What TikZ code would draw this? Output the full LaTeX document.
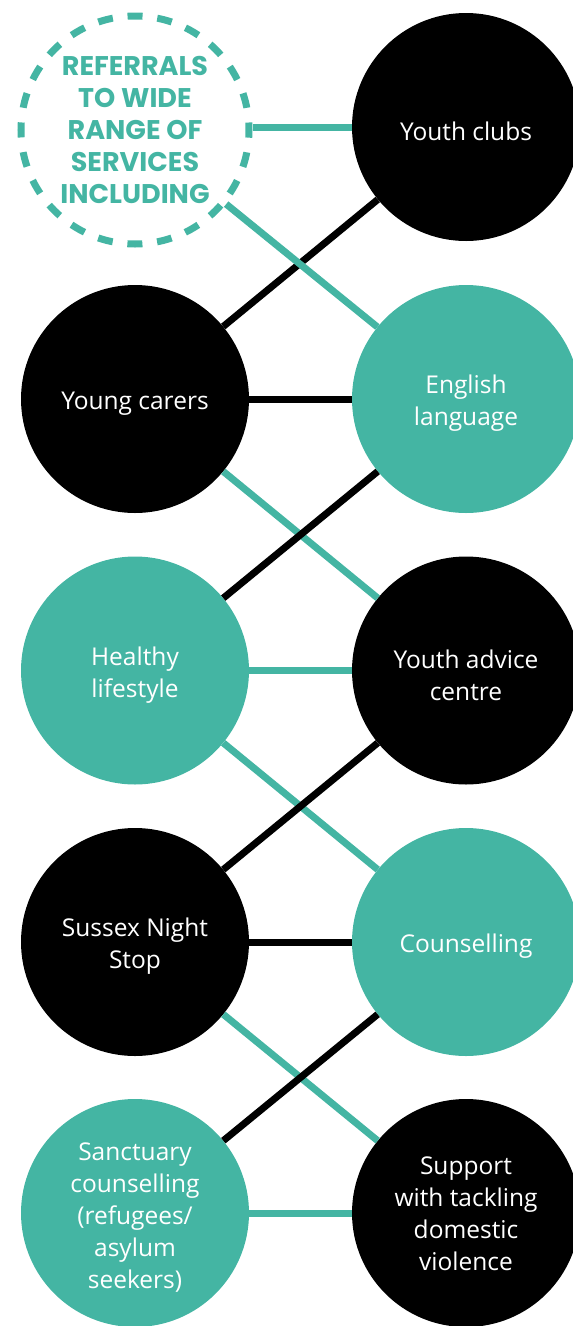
\documentclass[tikz,border=0pt]{standalone}
\usepackage{fontspec}
\setmainfont{Open Sans}
\newfontfamily\headfont{Poppins}
\definecolor{teal}{HTML}{44B5A3}
\begin{document}
\begin{tikzpicture}[x=1pt,y=-1pt,
  bubble/.style={circle,minimum size=228pt,inner sep=0pt},
  dark/.style={bubble,fill=black},
  light/.style={bubble,fill=teal},
  caption/.style={align=center,text=white,yshift=-4.5pt,
    font=\fontsize{24.5}{32}\selectfont},
  ring/.style={circle,minimum size=228pt,inner sep=0pt,align=center,draw=teal,
    line width=7pt,dash pattern=on 15pt off 14.84pt,dash phase=7.5pt,text=teal,
    font=\headfont\bfseries\fontsize{27}{31.8}\selectfont},
  tlink/.style={draw=teal,line width=7pt},
  blink/.style={draw=black,line width=7pt}]
\useasboundingbox (0,0) rectangle (573,1326);
\clip (0,0) rectangle (573,1326);
% left column
\node[ring]  (l0) at (135,130)    {REFERRALS\\TO WIDE\\RANGE OF\\SERVICES\\INCLUDING};
\node[dark]  (l1) at (135,399)    {};
\node[light] (l2) at (135,670.5)  {};
\node[dark]  (l3) at (135,942)    {};
\node[light] (l4) at (135,1213)   {};
% right column
\node[dark]  (r0) at (466,127)    {};
\node[light] (r1) at (466,399)    {};
\node[dark]  (r2) at (466,670.5)  {};
\node[light] (r3) at (466,942)    {};
\node[dark]  (r4) at (466,1213)   {};
% captions
\node[caption] (l1t) at (l1) {Young carers};
\node[caption] (l2t) at (l2) {Healthy\\lifestyle};
\node[caption] (l3t) at (l3) {Sussex Night\\Stop};
\node[caption] (l4t) at (l4) {Sanctuary\\counselling\\(refugees/\\asylum\\seekers)};
\node[caption] (r0t) at (r0) {Youth clubs};
\node[caption] (r1t) at (r1) {English\\language};
\node[caption] (r2t) at (r2) {Youth advice\\centre};
\node[caption] (r3t) at (r3) {Counselling};
\node[caption,yshift=4pt] (r4t) at (r4) {Support\\with tackling\\domestic\\violence};
% connectors
\path[tlink] (r0.west) -- (r0.west -| l0.east);
\path[blink] (r0) -- (l1);
\path[tlink] (l0) -- (r1);
\path[blink] (l1) -- (r1);
\path[tlink] (l1) -- (r2);
\path[blink] (r1) -- (l2);
\path[tlink] (l2) -- (r2);
\path[tlink] (l2) -- (r3);
\path[blink] (r2) -- (l3);
\path[blink] (l3) -- (r3);
\path[tlink] (l3) -- (r4);
\path[blink] (r3) -- (l4);
\path[tlink] (l4) -- (r4);
\end{tikzpicture}
\end{document}
